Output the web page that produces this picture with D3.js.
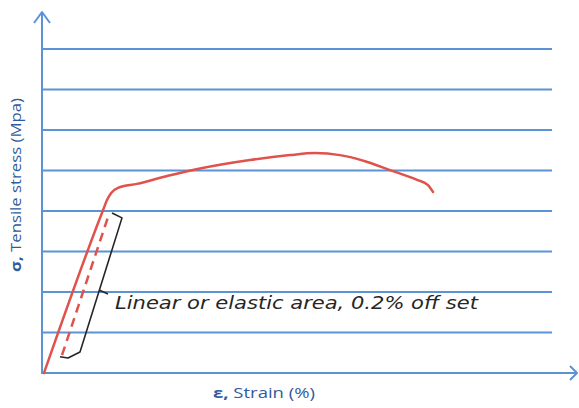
<!DOCTYPE html>
<html><head><meta charset="utf-8">
<script src="https://cdn.jsdelivr.net/npm/d3@7"></script>
<style>body{margin:0;background:#fff}svg{display:block}</style>
</head><body>
<svg id="c" width="579" height="408"></svg>
<script>
// Data (strain in arbitrary %, stress in grid units)
const curveStrain = [0.04,1.22,1.30,1.38,1.52,1.90,2.52,3.16,4.16,4.96,5.46,5.96,6.46,6.96,7.50,7.72,7.82];
const curveStress = [0,4.02,4.27,4.44,4.57,4.67,4.87,5.05,5.26,5.38,5.43,5.38,5.23,5.01,4.77,4.64,4.47];
const offsetStrain = [0.40,1.32];
const offsetStress = [0.44,3.85];
const bracketStrain = [1.40,1.60,0.76,0.52,0.36];
const bracketStress = [3.95,3.83,0.52,0.37,0.40];
const tickStrain = [1.14,1.32];
const tickStress = [2.05,1.95];
const gridValues = [1,2,3,4,5,6,7,8];
const yLabel = "Tensile stress (Mpa)";
const xLabel = "Strain (%)";
const note = "Linear or elastic area, 0.2% off set";

const svg = d3.select("#c");
const x = d3.scaleLinear().domain([0,10.7]).range([42,577]);
const y = d3.scaleLinear().domain([0,8]).range([373,49]);
const blue = "#5b93d6", red = "#e0524c", ink = "#262626", lab = "#2f5a9b";

// grid
svg.append("g").selectAll("line").data(gridValues).join("line")
  .attr("x1", x(0)).attr("x2", x(10.2))
  .attr("y1", d => y(d)).attr("y2", d => y(d))
  .attr("stroke", blue).attr("stroke-width", 2);

// axes with arrows
svg.append("line").attr("x1", x(0)).attr("x2", x(0)).attr("y1", y(0)).attr("y2", 12)
  .attr("stroke", blue).attr("stroke-width", 2);
svg.append("path").attr("d", `M${x(0)-8},23 L${x(0)},12 L${x(0)+8},23`)
  .attr("fill","none").attr("stroke", blue).attr("stroke-width", 2).attr("stroke-linejoin","round");
svg.append("line").attr("x1", x(0)-1).attr("x2", 577).attr("y1", y(0)).attr("y2", y(0))
  .attr("stroke", blue).attr("stroke-width", 2);
svg.append("path").attr("d", `M570,${y(0)-7} L577,${y(0)} L570,${y(0)+7}`)
  .attr("fill","none").attr("stroke", blue).attr("stroke-width", 2).attr("stroke-linejoin","round");

// curve
const pts = curveStrain.map((s,i)=>[s,curveStress[i]]);
const line = d3.line().x(d=>x(d[0])).y(d=>y(d[1])).curve(d3.curveMonotoneX);
svg.append("path").attr("d", line(pts)).attr("fill","none").attr("stroke", red)
  .attr("stroke-width", 2.5).attr("stroke-linecap","round");

// offset dashed line
const lin = d3.line().x(d=>x(d[0])).y(d=>y(d[1]));
svg.append("path").attr("d", lin(offsetStrain.map((s,i)=>[s,offsetStress[i]])))
  .attr("fill","none").attr("stroke", red).attr("stroke-width", 2.5).attr("stroke-dasharray","9,6");

// bracket
svg.append("path").attr("d", lin(bracketStrain.map((s,i)=>[s,bracketStress[i]])))
  .attr("fill","none").attr("stroke", ink).attr("stroke-width", 1.6).attr("stroke-linejoin","round");
svg.append("path").attr("d", lin(tickStrain.map((s,i)=>[s,tickStress[i]])))
  .attr("fill","none").attr("stroke", ink).attr("stroke-width", 1.6);

// annotation text
svg.append("text").attr("x", 115).attr("y", 309).text(note)
  .attr("font-family","DejaVu Sans").attr("font-style","italic").attr("font-size", 17)
  .attr("fill", ink).attr("textLength", 363).attr("lengthAdjust","spacingAndGlyphs");

// axis labels
const yl = svg.append("text").attr("transform","translate(21,185) rotate(-90)")
  .attr("text-anchor","middle").attr("font-family","Open Sans").attr("font-size",15).attr("fill", lab)
  .attr("textLength", 174).attr("lengthAdjust","spacingAndGlyphs");
yl.append("tspan").attr("font-weight","bold").text("σ,");
yl.append("tspan").text(" " + yLabel);
const xl = svg.append("text").attr("x", 264).attr("y", 398)
  .attr("text-anchor","middle").attr("font-family","Open Sans").attr("font-size",15).attr("fill", lab)
  .attr("textLength", 102).attr("lengthAdjust","spacingAndGlyphs");
xl.append("tspan").attr("font-weight","bold").text("ε,");
xl.append("tspan").text(" " + xLabel);
</script>
</body></html>
